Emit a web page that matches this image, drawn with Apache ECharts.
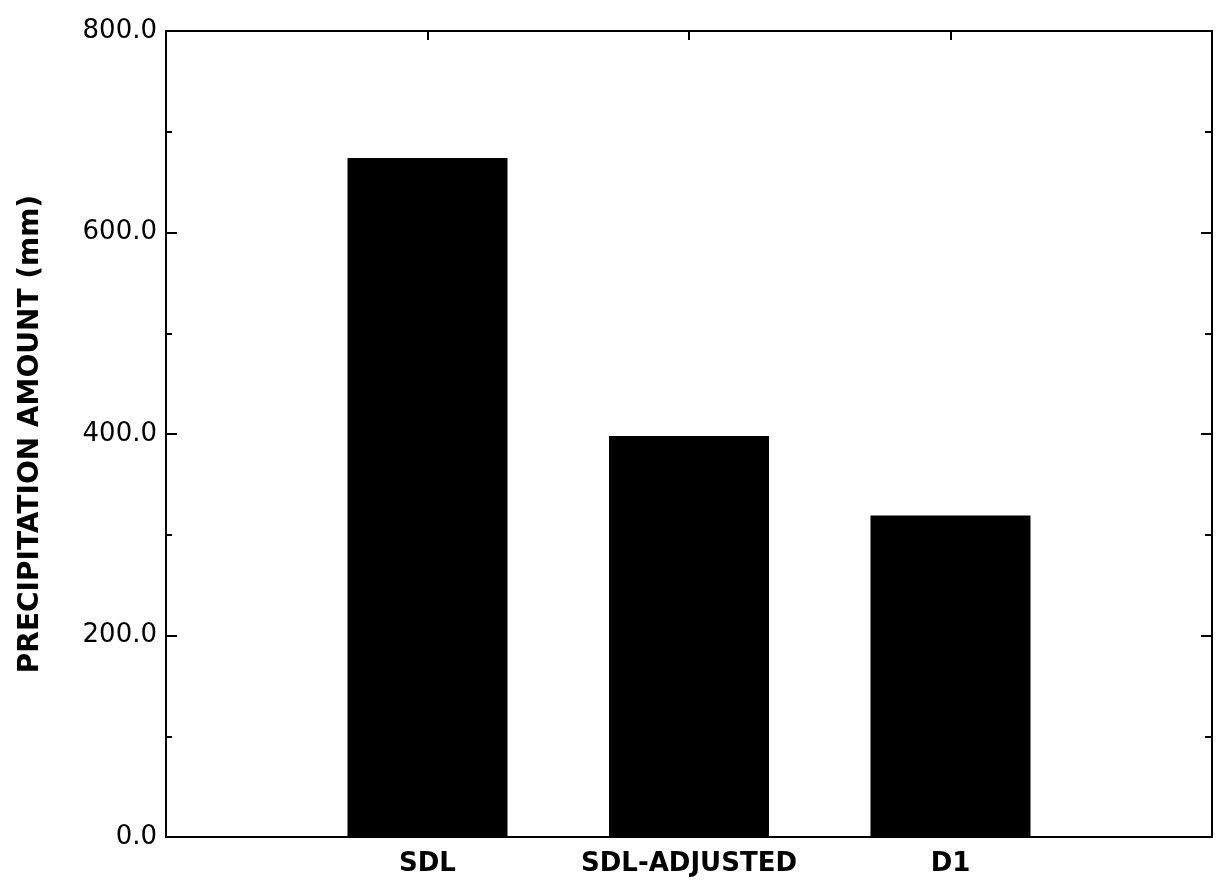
<!DOCTYPE html>
<html>
<head>
<meta charset="utf-8">
<script src="https://cdn.jsdelivr.net/npm/echarts@6/dist/echarts.min.js"></script>
<style>
html,body{margin:0;padding:0;background:#fff;}
#chart{width:1219px;height:883px;}
</style>
</head>
<body>
<div id="chart"></div>
<script>
// ---- data ----
const categories = ['SDL', 'SDL-ADJUSTED', 'D1'];
const precipitation = [674, 398, 319];
const yTicks = [0, 200, 400, 600, 800];
const yTitle = 'PRECIPITATION AMOUNT (mm)';

// pad one empty slot on each side so bars sit at 1/4, 1/2, 3/4 of the width
const axisCats = [''].concat(categories, ['']);
const seriesData = [null].concat(precipitation, [null]);

const chart = echarts.init(document.getElementById('chart'));
const font = '"DejaVu Sans", "Liberation Sans", Arial, sans-serif';
const axisLine = { show: true, onZero: false, lineStyle: { color: '#000', width: 2 } };

chart.setOption({
  animation: false,
  backgroundColor: '#fff',
  grid: { left: 166, right: 7, top: 31, bottom: 46 },
  xAxis: [
    {
      type: 'category', data: axisCats, boundaryGap: false, position: 'bottom',
      axisLine: axisLine,
      axisTick: { show: false },
      axisLabel: { color: '#000', fontFamily: font, fontWeight: 'bold', fontSize: 26, margin: 14, interval: 0 },
      splitLine: { show: false }
    },
    {
      type: 'category', data: axisCats, boundaryGap: false, position: 'top',
      axisLine: axisLine,
      axisTick: { show: true, inside: true, length: 9, lineStyle: { color: '#000', width: 2 }, interval: 0 },
      axisLabel: { show: false },
      splitLine: { show: false }
    }
  ],
  yAxis: [
    {
      type: 'value', min: yTicks[0], max: yTicks[yTicks.length - 1], interval: yTicks[1] - yTicks[0],
      position: 'left',
      name: yTitle, nameLocation: 'middle', nameGap: 121, nameRotate: 90,
      nameTextStyle: { color: '#000', fontFamily: font, fontWeight: 'bold', fontSize: 28 },
      axisLine: axisLine,
      axisTick: { show: true, inside: true, length: 11, lineStyle: { color: '#000', width: 2 } },
      minorTick: { show: true, splitNumber: 2, length: 6, lineStyle: { color: '#000', width: 2 } },
      axisLabel: { color: '#000', fontFamily: font, fontSize: 26, margin: 9, formatter: v => v.toFixed(1) },
      splitLine: { show: false }
    },
    {
      type: 'value', min: yTicks[0], max: yTicks[yTicks.length - 1], interval: yTicks[1] - yTicks[0],
      position: 'right',
      axisLine: axisLine,
      axisTick: { show: true, inside: true, length: 11, lineStyle: { color: '#000', width: 2 } },
      minorTick: { show: true, splitNumber: 2, length: 7, lineStyle: { color: '#000', width: 2 } },
      axisLabel: { show: false },
      splitLine: { show: false }
    }
  ],
  series: [
    {
      type: 'bar', xAxisIndex: 0, yAxisIndex: 0,
      data: seriesData,
      barWidth: 160,
      itemStyle: { color: '#000' }
    }
  ]
});
</script>
</body>
</html>
